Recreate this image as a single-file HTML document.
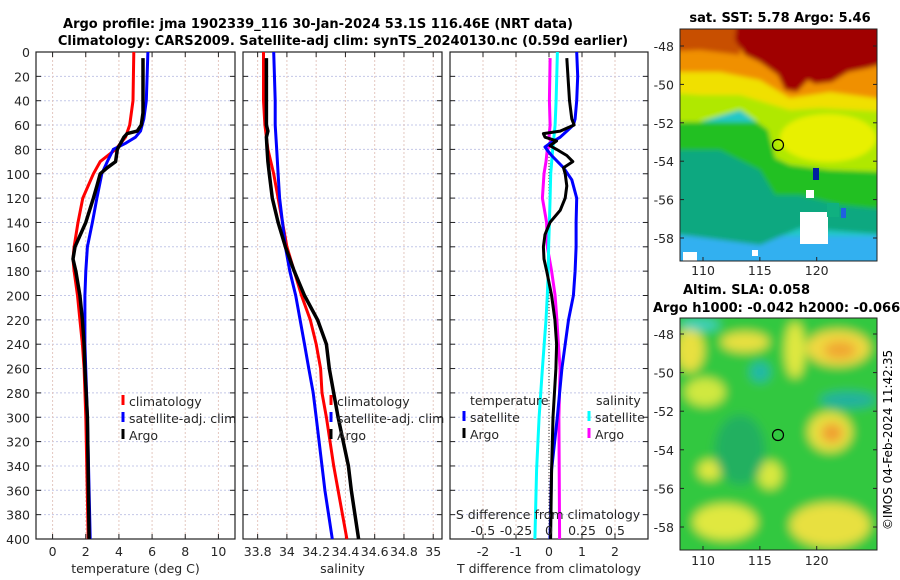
<!DOCTYPE html>
<html><head><meta charset="utf-8"><style>
body{margin:0;background:#fff;}
svg{display:block;font-family:"DejaVu Sans","Liberation Sans",sans-serif;}
</style></head><body>
<svg id="c" width="900" height="580" viewBox="0 0 900 580">
<defs><filter id="bl" x="-5%" y="-5%" width="110%" height="110%"><feGaussianBlur stdDeviation="2.5"/></filter>
<filter id="bl2" x="-5%" y="-5%" width="110%" height="110%"><feGaussianBlur stdDeviation="5"/></filter>
<clipPath id="cm1"><rect x="680" y="29" width="197" height="232"/></clipPath>
<clipPath id="cm2"><rect x="680" y="318" width="197" height="232"/></clipPath></defs>
<text x="318" y="28" text-anchor="middle" font-size="13" font-weight="bold">Argo profile: jma 1902339_116 30-Jan-2024 53.1S 116.46E (NRT data)</text>
<text x="343" y="45" text-anchor="middle" font-size="13" font-weight="bold">Climatology: CARS2009. Satellite-adj clim: synTS_20240130.nc (0.59d earlier)</text>
<g id="plots"></g>
<g>
<g clip-path="url(#cm1)"><g filter="url(#bl)">
<rect x="660" y="20" width="230" height="250" fill="#20c8c8"/>
<rect x="660" y="236" width="230" height="35" fill="#30b0f0"/>
<polygon points="660,150 780,150 890,200 890,235 800,228 760,245 660,232" fill="#10a880"/>
<polygon points="660,122 890,122 890,210 840,205 800,195 775,195 760,170 720,150 660,150" fill="#20c020"/>
<polygon points="660,20 890,20 890,172 830,170 790,165 775,158 768,130 740,110 700,122 660,122" fill="#b0e800"/>
<ellipse cx="828" cy="138" rx="48" ry="24" fill="#e8f000"/>
<polygon points="660,20 890,20 890,112 820,108 790,110 740,95 700,95 660,92" fill="#f0e000"/>
<polygon points="660,20 890,20 890,100 830,92 790,98 760,80 720,72 660,72" fill="#f09000"/>
<polygon points="660,20 740,20 740,55 700,50 660,52" fill="#c85000"/>
<polygon points="737,20 890,20 890,62 868,68 848,72 832,82 815,84 808,80 797,92 785,90 778,75 760,62 745,55 735,40" fill="#a00000"/>
</g>
<rect x="800" y="212" width="28" height="32" fill="#fff"/><rect x="683" y="252" width="14" height="9" fill="#fff"/>
<rect x="806" y="190" width="8" height="8" fill="#fff"/><rect x="752" y="250" width="6" height="6" fill="#fff"/>
<rect x="813" y="168" width="6" height="12" fill="#0020a0"/><rect x="841" y="208" width="5" height="10" fill="#2060e0"/>
<rect x="827" y="203" width="12" height="14" fill="#10b080"/>
</g>
<rect x="680" y="29" width="197" height="232" fill="none" stroke="#222" stroke-width="1"/>
<circle cx="778" cy="145" r="5.5" fill="none" stroke="#000" stroke-width="1.2"/>
<text x="780" y="22" text-anchor="middle" font-size="13" font-weight="bold">sat. SST: 5.78 Argo: 5.46</text>
</g>
<g>
<g clip-path="url(#cm2)"><g filter="url(#bl2)">
<rect x="660" y="300" width="230" height="270" fill="#30c840"/>
<ellipse cx="838" cy="348" rx="32" ry="18" fill="#f0d840"/><ellipse cx="840" cy="350" rx="16" ry="9" fill="#f0a830"/>
<ellipse cx="690" cy="350" rx="14" ry="22" fill="#e8e040"/>
<ellipse cx="795" cy="350" rx="10" ry="28" fill="#e0e840"/>
<ellipse cx="745" cy="342" rx="24" ry="10" fill="#e8e040"/>
<ellipse cx="705" cy="392" rx="20" ry="14" fill="#d0e840"/>
<ellipse cx="830" cy="432" rx="22" ry="20" fill="#e8e040"/><ellipse cx="832" cy="433" rx="11" ry="10" fill="#f0a030"/>
<ellipse cx="710" cy="470" rx="12" ry="10" fill="#e0e840"/>
<ellipse cx="770" cy="475" rx="12" ry="14" fill="#d8e840"/>
<ellipse cx="725" cy="522" rx="32" ry="18" fill="#e0e840"/>
<ellipse cx="830" cy="525" rx="40" ry="22" fill="#e8e040"/>
<ellipse cx="760" cy="372" rx="10" ry="10" fill="#20b8a8"/>
<ellipse cx="848" cy="400" rx="28" ry="8" fill="#20b0a0"/>
<ellipse cx="700" cy="325" rx="20" ry="6" fill="#40d0c0"/>
<ellipse cx="740" cy="450" rx="25" ry="35" fill="#20b060"/>
</g></g>
<rect x="680" y="318" width="197" height="232" fill="none" stroke="#222" stroke-width="1"/>
<circle cx="778" cy="435" r="5.5" fill="none" stroke="#000" stroke-width="1.2"/>
<text x="683" y="294" font-size="13" font-weight="bold">Altim. SLA: 0.058</text>
<text x="653" y="312" font-size="13" font-weight="bold">Argo h1000: -0.042 h2000: -0.066</text>
</g>
<text transform="translate(892,440) rotate(-90)" text-anchor="middle" font-size="12">©IMOS 04-Feb-2024 11:42:35</text>
<g id="maps"></g>
</svg>
<script>
const depthTicks=[0,20,40,60,80,100,120,140,160,180,200,220,240,260,280,300,320,340,360,380,400];
const tTicks=[0,2,4,6,8,10];
const sTicks=[33.8,34,34.2,34.4,34.6,34.8,35];
const sTickLabels=["33.8","34","34.2","34.4","34.6","34.8","35"];
const dTicks=[-2,-1,0,1,2];
const sdTicks=[-0.5,-0.25,0,0.25,0.5];
const sdTickLabels=["-0.5","-0.25","0","0.25","0.5"];
// temperature panel
const tClimDepth=[0,40,60,70,80,90,100,120,140,160,170,180,200,220,240,260,300,400];
const tClim=[4.9,4.85,4.65,4.4,3.8,2.87,2.46,1.82,1.53,1.3,1.23,1.3,1.5,1.65,1.8,1.9,2.0,2.15];
const tSatDepth=[0,40,55,65,70,75,80,90,100,120,140,160,180,200,240,300,400];
const tSat=[5.75,5.65,5.5,5.3,5.0,4.4,3.66,3.3,2.97,2.67,2.4,2.1,2.0,1.95,1.95,2.1,2.27];
const tArgoDepth=[5,50,60,65,67,70,75,80,90,95,100,110,120,140,160,170,180,200,220,240,260,300,400];
const tArgo=[5.45,5.45,5.35,5.1,4.5,4.3,4.1,3.9,3.8,3.3,2.87,2.67,2.46,2.0,1.35,1.23,1.4,1.65,1.8,1.9,1.95,2.1,2.2];
// salinity panel
const sClimDepth=[0,40,60,70,80,100,120,140,160,180,200,220,240,260,280,300,340,360,400];
const sClim=[33.84,33.84,33.85,33.86,33.87,33.91,33.94,33.97,34.0,34.05,34.1,34.16,34.2,34.23,34.24,34.27,34.32,34.35,34.41];
const sSatDepth=[0,40,60,80,100,120,140,160,180,200,220,240,260,280,300,340,360,400];
const sSat=[33.91,33.92,33.92,33.93,33.94,33.95,33.97,33.99,34.02,34.06,34.09,34.12,34.15,34.18,34.2,34.24,34.26,34.31];
const sArgoDepth=[5,60,65,70,80,90,100,120,140,160,180,200,220,240,260,280,300,340,360,400];
const sArgo=[33.86,33.86,33.87,33.86,33.865,33.87,33.88,33.9,33.94,33.99,34.05,34.12,34.21,34.27,34.29,34.32,34.35,34.42,34.44,34.49];
// difference panel
const dTSatDepth=[0,20,40,55,60,65,70,75,78,80,85,95,105,120,140,160,180,200,220,240,260,300,343,400];
const dTSat=[0.84,0.87,0.84,0.79,0.74,0.54,0.34,0.03,-0.12,-0.07,0.08,0.44,0.69,0.84,0.82,0.82,0.79,0.74,0.59,0.49,0.39,0.25,0.08,0.03];
const dTArgoDepth=[5,40,55,60,65,67,70,73,77,80,85,90,95,100,110,120,130,140,150,160,170,180,200,220,240,260,300,343,400];
const dTArgo=[0.54,0.62,0.69,0.76,0.34,-0.17,-0.12,0.23,0.03,0.23,0.54,0.72,0.44,0.49,0.54,0.49,0.34,0.03,-0.12,-0.17,-0.15,-0.07,0.08,0.18,0.23,0.21,0.12,0.08,0.05];
const dSArgoDepth=[5,40,60,70,75,80,90,100,120,140,160,180,200,220,240,260,300,400];
const dSArgo=[0.008,0.003,0.008,0,0.02,-0.013,-0.023,-0.038,-0.05,-0.018,-0.013,0.02,0.046,0.06,0.071,0.084,0.075,0.08];
const dSSatDepth=[0,40,60,80,100,120,140,160,180,200,220,240,260,300,343,400];
const dSSat=[0.064,0.054,0.046,0.028,0.013,0.008,0.003,-0.003,-0.005,-0.013,-0.023,-0.036,-0.05,-0.075,-0.094,-0.107];
const latTicks=[-48,-50,-52,-54,-56,-58];
const lonTicks=[110,115,120];

const NS="http://www.w3.org/2000/svg";
const root=document.getElementById('plots');
const Y0=52,Y1=539;
const FS=12.5;
function yS(d){return Y0+(d/400)*(Y1-Y0);}
function mk(tag,attrs,parent){const e=document.createElementNS(NS,tag);for(const k in attrs)e.setAttribute(k,attrs[k]);(parent||root).appendChild(e);return e;}
function txt(x,y,s,anchor,size,parent){const t=mk('text',{x:x,y:y,'text-anchor':anchor||'middle','font-size':size||FS,fill:'#262626'},parent);t.textContent=s;return t;}
function panel(name,x0,x1,dmin,dmax,ticks,labels,title,yLabels){
  const g=mk('g',{});
  
  
  const xs=v=>x0+(v-dmin)/(dmax-dmin)*(x1-x0);
  depthTicks.forEach(d=>{const l=mk('line',{x1:x0,x2:x1,y1:yS(d),y2:yS(d),stroke:'#c4c8e8','stroke-width':1,'stroke-dasharray':'2,2'},g);
    
    mk('line',{x1:x0,x2:x0+5,y1:yS(d),y2:yS(d),stroke:'#222'},g);mk('line',{x1:x1-5,x2:x1,y1:yS(d),y2:yS(d),stroke:'#222'},g);
    if(yLabels){const t=txt(x0-6,yS(d)+5,String(d),'end',FS,g);}});
  ticks.forEach((v,i)=>{const X=xs(v);mk('line',{x1:X,x2:X,y1:Y0,y2:Y1,stroke:'#e4c8c0','stroke-width':1,'stroke-dasharray':'2,2'},g);
    mk('line',{x1:X,x2:X,y1:Y1-5,y2:Y1,stroke:'#222'},g);mk('line',{x1:X,x2:X,y1:Y0,y2:Y0+5,stroke:'#222'},g);
    const t=txt(X,556,labels[i],'middle',FS,g);});
  mk('rect',{x:x0,y:Y0,width:x1-x0,height:Y1-Y0,fill:'none',stroke:'#222','stroke-width':1.2},g);
  const tt=txt((x0+x1)/2,573,title,'middle',FS,g);
  
  return {g,xs};
}
function line(p,depths,vals,color,w,name){
  const pts=vals.map((v,i)=>p.xs(v).toFixed(1)+','+yS(depths[i]).toFixed(1)).join(' ');
  const l=mk('polyline',{points:pts,fill:'none',stroke:color,'stroke-width':w,'stroke-linejoin':'round'},p.g);
  
  
}
function legend(g,x,y,items){
  items.forEach((it,i)=>{const yy=y+i*17;mk('line',{x1:x,x2:x,y1:yy-11,y2:yy-1,stroke:it[1],'stroke-width':3},g);
    const t=txt(x+6,yy,it[0],'start',FS,g);});
}
const p1=panel('temperature-panel',36,235,-1,11,tTicks,tTicks.map(String),'temperature (deg C)',true);
line(p1,tClimDepth,tClim,'#ff0000',3,'temp-climatology-line');
line(p1,tSatDepth,tSat,'#0000ff',3,'temp-satellite-line');
line(p1,tArgoDepth,tArgo,'#000',3.5,'temp-argo-line');
legend(p1.g,123,406,[['climatology','#ff0000'],['satellite-adj. clim','#0000ff'],['Argo','#000']]);
const p2=panel('salinity-panel',243,442,33.7,35.06,sTicks,sTickLabels,'salinity',false);
line(p2,sClimDepth,sClim,'#ff0000',3,'sal-climatology-line');
line(p2,sSatDepth,sSat,'#0000ff',3,'sal-satellite-line');
line(p2,sArgoDepth,sArgo,'#000',3.5,'sal-argo-line');
legend(p2.g,331,406,[['climatology','#ff0000'],['satellite-adj. clim','#0000ff'],['Argo','#000']]);
const p3=panel('difference-panel',450,648,-3,3,dTicks,dTicks.map(String),'T difference from climatology',false);
mk('line',{x1:p3.xs(0),x2:p3.xs(0),y1:Y0,y2:Y1,stroke:'#333','stroke-dasharray':'1,2'},p3.g);
const p3s={g:p3.g,xs:v=>450+(v+0.75)/1.5*198};
line(p3s,dSArgoDepth,dSArgo,'#ff00ff',3,'sal-diff-argo-line');
line(p3s,dSSatDepth,dSSat,'#00ffff',3,'sal-diff-satellite-line');
line(p3,dTSatDepth,dTSat,'#0000ff',3,'temp-diff-satellite-line');
line(p3,dTArgoDepth,dTArgo,'#000',3,'temp-diff-argo-line');
txt(470,405,'temperature','start',FS,p3.g);
txt(596,405,'salinity','start',FS,p3.g);
legend(p3.g,464,422,[['satellite','#0000ff'],['Argo','#000']]);
legend(p3.g,589,422,[['satellite','#00ffff'],['Argo','#ff00ff']]);
txt(548,519,'S difference from climatology','middle',FS,p3.g);
sdTicks.forEach((v,i)=>{const t=txt(p3s.xs(v),535,sdTickLabels[i],'middle',FS,p3.g);});
// map axes
const mg=document.getElementById('maps');
function mapAxes(top,latY48,pxPerDeg,labelY){
  latTicks.forEach(l=>{const y=latY48+(-48-l)*pxPerDeg;
    mk('line',{x1:680,x2:684,y1:y,y2:y,stroke:'#222'},mg);mk('line',{x1:873,x2:877,y1:y,y2:y,stroke:'#222'},mg);
    const t=txt(674,y+5,String(l),'end',FS,mg);});
  lonTicks.forEach(l=>{const x=703+(l-110)*11.37;
    mk('line',{x1:x,x2:x,y1:top+228,y2:top+232,stroke:'#222'},mg);
    const t=txt(x,labelY,String(l),'middle',FS,mg);});
}
mapAxes(29,46,19.2,275);
mapAxes(318,334,19.3,565);
</script>
</body></html>
